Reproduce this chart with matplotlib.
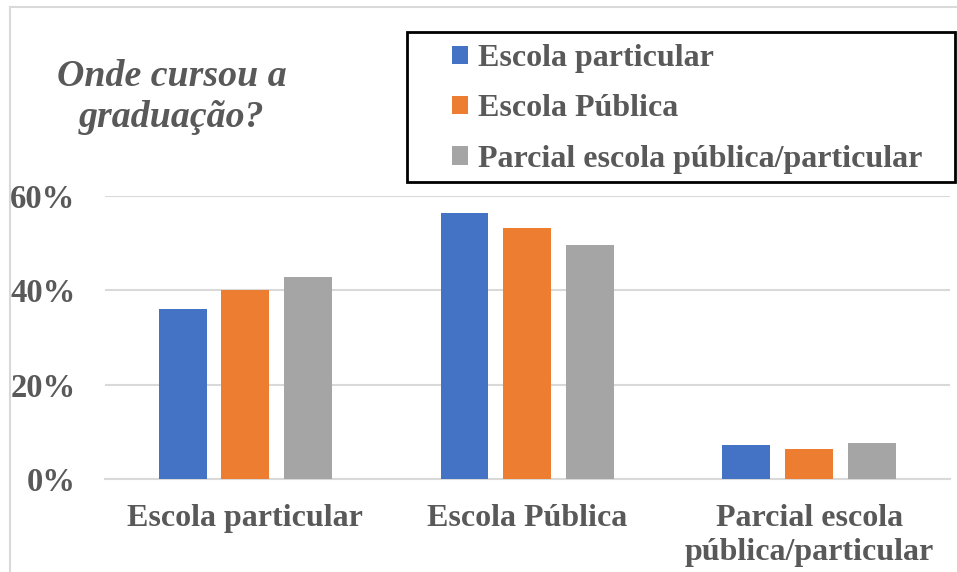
import matplotlib
matplotlib.use("Agg")
import matplotlib.pyplot as plt
from matplotlib.lines import Line2D
from matplotlib.patches import Rectangle
from matplotlib.ticker import PercentFormatter
import numpy as np

# ─────────────────────────────────────────────
# Datos
# ─────────────────────────────────────────────
categorias = ["Escola particular", "Escola Pública", "Parcial escola\npública/particular"]
series = ["Escola particular", "Escola Pública", "Parcial escola pública/particular"]
escola_particular = [0.360, 0.563, 0.073]
escola_publica = [0.400, 0.532, 0.064]
parcial = [0.428, 0.496, 0.076]
colores = ["#4472C4", "#ED7D31", "#A5A5A5"]

gris_texto = "#595959"
plt.rcParams["font.family"] = ["Liberation Serif", "DejaVu Serif"]
plt.rcParams["font.weight"] = "bold"

W, H = 957, 572
fig = plt.figure(figsize=(W / 100, H / 100), dpi=100)

# borde del grafico (solo arriba e izquierda se ven)
fig.add_artist(Line2D([10 / W, 1], [1 - 7 / H, 1 - 7 / H], color="#d9d9d9", lw=1.5))
fig.add_artist(Line2D([10 / W, 10 / W], [0, 1 - 7 / H], color="#d9d9d9", lw=1.5))

ax = fig.add_axes([104.5 / W, 1 - 479 / H, (950 - 104.5) / W, (479 - 195.7) / H])

x = np.arange(len(categorias))
ancho = 0.17
paso = 0.2225
valores = [escola_particular, escola_publica, parcial]
for i, (nombre, vals) in enumerate(zip(series, valores)):
    ax.bar(x + (i - 1) * paso, vals, ancho, color=colores[i], label=nombre, zorder=3)

ax.set_xlim(-0.5, 2.5)
ax.set_ylim(0, 0.6)
ax.set_yticks([0, 0.2, 0.4, 0.6])
ax.yaxis.set_major_formatter(PercentFormatter(1.0, decimals=0))
ax.grid(axis="y", color="#d9d9d9", lw=1.5, zorder=0)
ax.set_xticks(x)
ax.set_xticklabels(categorias, fontsize=23, color=gris_texto, linespacing=1.22)
for lbl in ax.get_yticklabels():
    lbl.set_fontsize(23.5)
    lbl.set_color(gris_texto)
ax.tick_params(axis="both", length=0)
ax.tick_params(axis="y", pad=21)
ax.tick_params(axis="x", pad=18)
for lado in ["top", "right", "left"]:
    ax.spines[lado].set_visible(False)
ax.spines["bottom"].set_color("#d9d9d9")
ax.spines["bottom"].set_linewidth(1.5)

# titulo
fig.text(172 / W, 1 - 97 / H, "Onde cursou a\ngraduação?", ha="center", va="center",
         fontsize=27.3, style="italic", fontweight="bold", color=gris_texto, linespacing=1.19)

# leyenda con marco negro
fig.add_artist(Rectangle((407 / W, 1 - 182 / H), (955 - 407) / W, (182 - 32) / H,
                         transform=fig.transFigure, fill=False, ec="black", lw=2))
leg = fig.legend(loc="upper left", bbox_to_anchor=(452 / W, 1 - 44 / H), frameon=False,
                 fontsize=23, labelspacing=0.67, handlelength=0.5, handleheight=0.5,
                 handletextpad=0.3, borderaxespad=0, borderpad=0)
for t in leg.get_texts():
    t.set_color(gris_texto)

fig.savefig("out.png", dpi=100)
